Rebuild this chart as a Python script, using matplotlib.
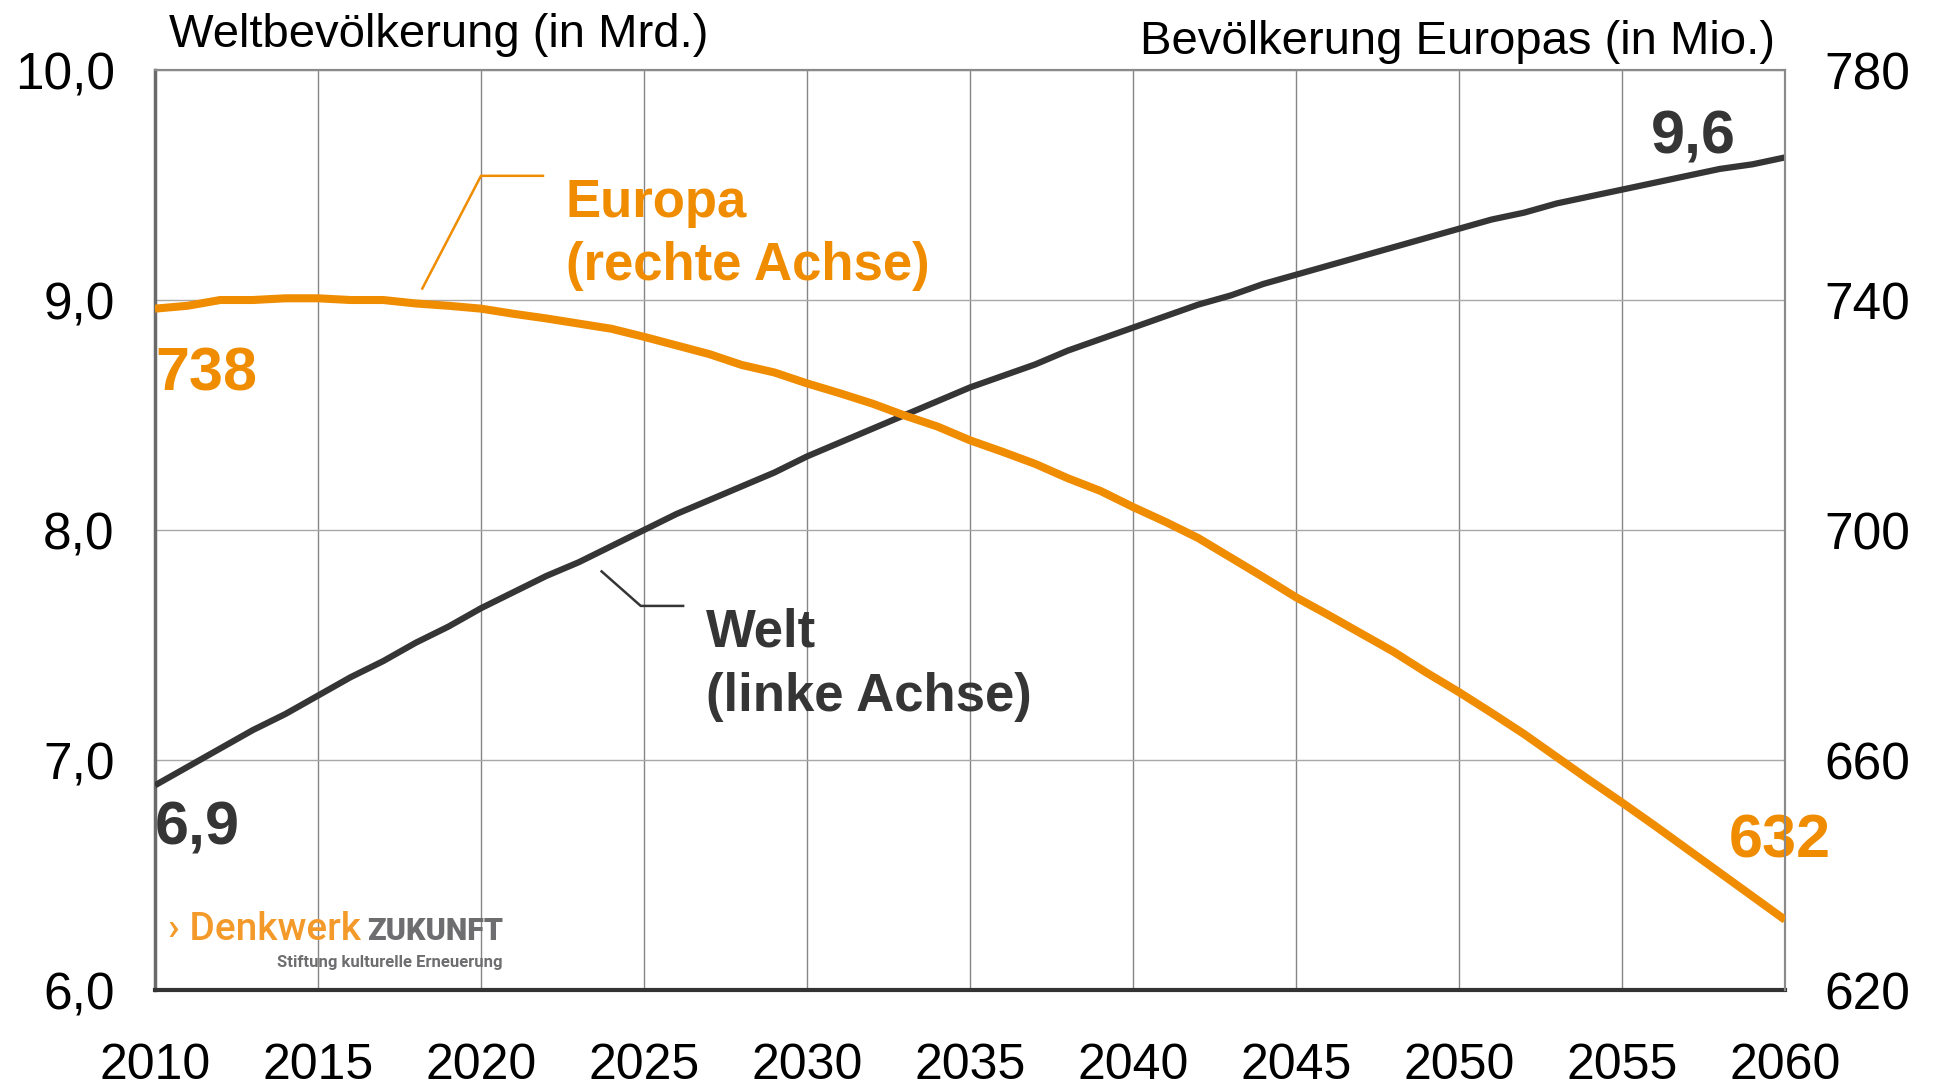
import matplotlib
matplotlib.use("Agg")
import matplotlib.pyplot as plt

plt.rcParams['font.family'] = ['Liberation Sans', 'DejaVu Sans']

years = list(range(2010, 2061))
welt = [6.89, 6.97, 7.05, 7.13, 7.20, 7.28, 7.36, 7.43, 7.51, 7.58,
        7.66, 7.73, 7.80, 7.86, 7.93, 8.00, 8.07, 8.13, 8.19, 8.25,
        8.32, 8.38, 8.44, 8.50, 8.56, 8.62, 8.67, 8.72, 8.78, 8.83,
        8.88, 8.93, 8.98, 9.02, 9.07, 9.11, 9.15, 9.19, 9.23, 9.27,
        9.31, 9.35, 9.38, 9.42, 9.45, 9.48, 9.51, 9.54, 9.57, 9.59,
        9.62]
europa = [738.5, 739.0, 740.0, 740.0, 740.3, 740.3, 740.0, 740.0, 739.4, 739.0,
          738.5, 737.6, 736.8, 735.9, 735.0, 733.6, 732.1, 730.6, 728.7, 727.4,
          725.5, 723.8, 722.0, 719.9, 718.0, 715.6, 713.6, 711.5, 709.0, 706.8,
          704.0, 701.4, 698.6, 695.2, 691.8, 688.3, 685.2, 682.0, 678.8, 675.2,
          671.8, 668.2, 664.5, 660.5, 656.5, 652.6, 648.6, 644.5, 640.4, 636.3,
          632.2]

xticks = list(range(2010, 2061, 5))
yticks_left = [6, 7, 8, 9, 10]
ylabels_left = ["6,0", "7,0", "8,0", "9,0", "10,0"]
yticks_right = [620, 660, 700, 740, 780]

ORANGE = "#F08C00"
DARK = "#353535"

fig = plt.figure(figsize=(19.35, 10.89), dpi=100)
ax = fig.add_axes([0.0801, 0.0909, 0.8424, 0.8448])
ax2 = ax.twinx()

ax.set_xlim(2010, 2060)
ax.set_ylim(6, 10)
ax2.set_ylim(620, 780)

ax.set_xticks(xticks)
ax.set_xticklabels([str(y) for y in xticks])
ax.set_yticks(yticks_left)
ax.set_yticklabels(ylabels_left)
ax2.set_yticks(yticks_right)
ax2.set_yticklabels([str(v) for v in yticks_right])

ax.grid(True, axis='x', color="#858585", linewidth=1.0)
ax.grid(True, axis='y', color="#a8a8a8", linewidth=1.0)
ax.set_axisbelow(True)

ax.tick_params(axis='x', length=0, labelsize=36, pad=38)
ax.tick_params(axis='y', length=0, labelsize=37, pad=29)
ax2.tick_params(axis='y', length=0, labelsize=37, pad=28)

for a in (ax, ax2):
    for s in a.spines.values():
        s.set_color("#8a8a8a")
        s.set_linewidth(1.5)
ax.spines['left'].set_color("#6a6a6a")
ax.spines['left'].set_linewidth(2.5)
ax2.spines['left'].set_visible(False)
ax.spines['bottom'].set_color("#333333")
ax.spines['bottom'].set_linewidth(3)
ax2.spines['bottom'].set_visible(False)

ax.plot(years, welt, color=DARK, linewidth=4.5, solid_capstyle='butt', zorder=3)
ax2.plot(years, europa, color=ORANGE, linewidth=5.8, solid_capstyle='butt', zorder=3)

# labels
ax.text(2010.0, 8.675, "738", color=ORANGE, fontsize=44, fontweight='bold', ha='left', va='center')
ax.text(2010.0, 6.70, "6,9", color=DARK, fontsize=44, fontweight='bold', ha='left', va='center')
ax.text(2058.5, 9.705, "9,6", color=DARK, fontsize=44, fontweight='bold', ha='right', va='center')
ax.text(2061.4, 6.645, "632", color=ORANGE, fontsize=44, fontweight='bold', ha='right', va='center',
        clip_on=False, zorder=5)

ax.text(2022.6, 9.42, "Europa", color=ORANGE, fontsize=38, fontweight='bold', ha='left', va='center')
ax.text(2022.6, 9.15, "(rechte Achse)", color=ORANGE, fontsize=38, fontweight='bold', ha='left', va='center')
ax.plot([2018.2, 2020.0, 2021.9], [9.05, 9.54, 9.54], color=ORANGE, linewidth=1.8)

ax.text(2026.9, 7.555, "Welt", color=DARK, fontsize=38, fontweight='bold', ha='left', va='center')
ax.text(2026.9, 7.275, "(linke Achse)", color=DARK, fontsize=38, fontweight='bold', ha='left', va='center')
ax.plot([2023.7, 2024.9, 2026.2], [7.82, 7.67, 7.67], color=DARK, linewidth=1.8)

# axis titles
fig.text(169 / 1935, 1 - 35 / 1089, "Weltbevölkerung (in Mrd.)", fontsize=34, ha='left', va='center')
fig.text(1775 / 1935, 1 - 42 / 1089, "Bevölkerung Europas (in Mio.)", fontsize=34, ha='right', va='center')

# logo
fig.text(168 / 1935, 1 - 940 / 1089, "› Denkwerk", color="#F39A2B", fontsize=28, fontweight='medium',
         family=['Roboto', 'DejaVu Sans'], ha='left', va='baseline')
fig.text(503 / 1935, 1 - 940 / 1089, "ZUKUNFT", color="#6E6E70", fontsize=22, fontweight='heavy',
         family=['Roboto', 'DejaVu Sans'], ha='right', va='baseline')
fig.text(502 / 1935, 1 - 967 / 1089, "Stiftung kulturelle Erneuerung", color="#6E6E70", fontsize=12,
         fontweight='bold', family=['Roboto', 'DejaVu Sans'], ha='right', va='baseline')

fig.savefig("out.png", dpi=100)
